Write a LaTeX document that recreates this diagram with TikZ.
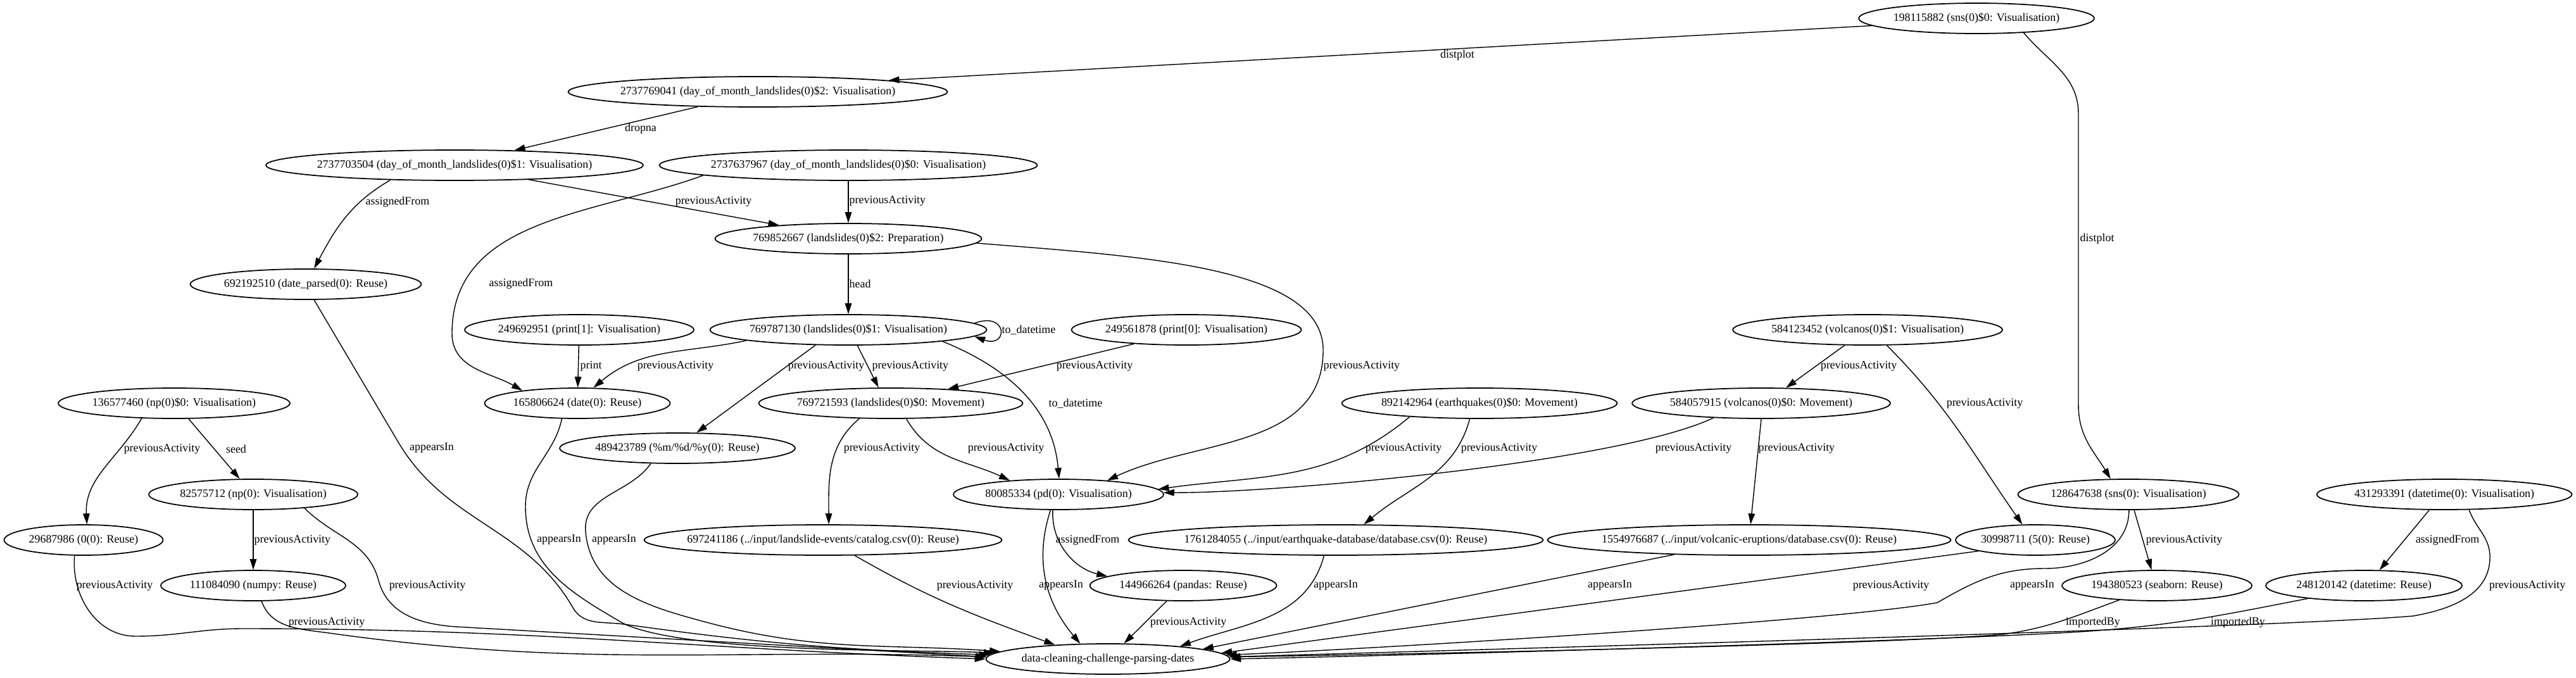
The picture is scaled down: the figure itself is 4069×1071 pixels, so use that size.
\documentclass[tikz,border=0pt]{standalone}
\usepackage{fontspec}
\setmainfont{Liberation Serif}
\usepackage{tikz}
\usetikzlibrary{arrows.meta, shapes.geometric}
\newcommand{\gvsize}{\fontsize{10.2}{12}\selectfont}
\newcommand{\gvtext}[1]{\makebox[0pt]{#1}}
\tikzset{
  ent/.style={ellipse, draw, line width=1pt, inner sep=0pt, minimum height=0.96cm,
    minimum width=#1*0.02cm, font=\gvsize},
  lbl/.style={font=\gvsize, inner sep=0pt},
  lblw/.style={lbl, anchor=west},
  rel/.style={-{Triangle[length=0.34cm, width=0.21cm]}, line width=0.8pt},
}
\begin{document}
\begin{tikzpicture}[x=0.02cm, y=-0.02cm]
  \useasboundingbox (0,0) rectangle (4069,1071);
  % entities
  \node[ent=372] (n198115882) at (3122,29) {\gvtext{198115882 (sns(0)\$0: Visualisation)}};
  \node[ent=599] (n2737769041) at (1197,145) {\gvtext{2737769041 (day\_of\_month\_landslides(0)\$2: Visualisation)}};
  \node[ent=596] (n2737703504) at (718,261) {\gvtext{2737703504 (day\_of\_month\_landslides(0)\$1: Visualisation)}};
  \node[ent=597] (n2737637967) at (1340,261) {\gvtext{2737637967 (day\_of\_month\_landslides(0)\$0: Visualisation)}};
  \node[ent=421] (n769852667) at (1340,377) {\gvtext{769852667 (landslides(0)\$2: Preparation)}};
  \node[ent=365] (n692192510) at (483,449) {\gvtext{692192510 (date\_parsed(0): Reuse)}};
  \node[ent=362] (n249692951) at (915,521) {\gvtext{249692951 (print[1]: Visualisation)}};
  \node[ent=437] (n769787130) at (1340,521) {\gvtext{769787130 (landslides(0)\$1: Visualisation)}};
  \node[ent=363] (n249561878) at (1874,521) {\gvtext{249561878 (print[0]: Visualisation)}};
  \node[ent=426] (n584123452) at (2950,521) {\gvtext{584123452 (volcanos(0)\$1: Visualisation)}};
  \node[ent=366] (n136577460) at (275,637) {\gvtext{136577460 (np(0)\$0: Visualisation)}};
  \node[ent=293] (n165806624) at (912,637) {\gvtext{165806624 (date(0): Reuse)}};
  \node[ent=417] (n769721593) at (1407,637) {\gvtext{769721593 (landslides(0)\$0: Movement)}};
  \node[ent=435] (n892142964) at (2337,637) {\gvtext{892142964 (earthquakes(0)\$0: Movement)}};
  \node[ent=408] (n584057915) at (2782,637) {\gvtext{584057915 (volcanos(0)\$0: Movement)}};
  \node[ent=372] (n489423789) at (1070,708) {\gvtext{489423789 (\%m/\%d/\%y(0): Reuse)}};
  \node[ent=330] (n82575712) at (400,781) {\gvtext{82575712 (np(0): Visualisation)}};
  \node[ent=332] (n80085334) at (1672,781) {\gvtext{80085334 (pd(0): Visualisation)}};
  \node[ent=349] (n128647638) at (3362,781) {\gvtext{128647638 (sns(0): Visualisation)}};
  \node[ent=403] (n431293391) at (3861,781) {\gvtext{431293391 (datetime(0): Visualisation)}};
  \node[ent=251] (n29687986) at (132,853) {\gvtext{29687986 (0(0): Reuse)}};
  \node[ent=565] (n697241186) at (1300,853) {\gvtext{697241186 (../input/landslide-events/catalog.csv(0): Reuse)}};
  \node[ent=655] (n1761284055) at (2110,853) {\gvtext{1761284055 (../input/earthquake-database/database.csv(0): Reuse)}};
  \node[ent=637] (n1554976687) at (2763,853) {\gvtext{1554976687 (../input/volcanic-eruptions/database.csv(0): Reuse)}};
  \node[ent=252] (n30998711) at (3215,853) {\gvtext{30998711 (5(0): Reuse)}};
  \node[ent=292] (n111084090) at (400,925) {\gvtext{111084090 (numpy: Reuse)}};
  \node[ent=295] (n144966264) at (1869,925) {\gvtext{144966264 (pandas: Reuse)}};
  \node[ent=300] (n194380523) at (3407,925) {\gvtext{194380523 (seaborn: Reuse)}};
  \node[ent=310] (n248120142) at (3734,925) {\gvtext{248120142 (datetime: Reuse)}};
  \node[ent=385] (ndata) at (1750,1041) {\gvtext{data-cleaning-challenge-parsing-dates}};
  % relations, upper part
  \draw[rel] (n198115882.184) -- (n2737769041.5) node[lbl] (l1) at (2302,87) {distplot};
  \draw[rel] (n198115882.-17) to[out=-50, in=90] (3283,180) -- (3283,640) to[out=-90, in=121] (n128647638.139)
    node[lblw] (l2) at (3285,377) {distplot};
  \draw[rel] (n2737769041.-166) -- (n2737703504.14) node[lbl] (l3) at (1012,203) {dropna};
  \draw[rel] (n2737703504.-11) -- (n769852667.169) node[lbl] (l4) at (1127,319) {previousActivity};
  \draw[rel] (n2737703504.-167) to[out=-150, in=62] (n692192510.62) node[lbl] (l5) at (628,319) {assignedFrom};
  \draw[rel] (n2737637967) -- (n769852667) node[lblw] (l6) at (1341,318) {previousActivity};
  \draw[rel] (n2737637967.-176) to[out=-160, in=90] (714,527) to[out=-90, in=150] (n165806624.167)
    node[lbl] (l7) at (823,448) {assignedFrom};
  \draw[rel] (n769852667) -- (n769787130) node[lblw] (l8) at (1341,448) {head};
  \draw[rel] (n769852667.-2) .. controls (1800,405) and (2090,420) .. (2090,553) to[out=-90, in=25] (n80085334.16)
    node[lblw] (l9) at (2090,578) {previousActivity};
  \draw[rel] (n769787130.3) to[out=20, in=-20, looseness=7] (n769787130.-3) node[lblw] (l10) at (1582,521) {to\_datetime};
  \draw[rel] (n769787130.-174) to[out=-168, in=40] (n165806624.44) node[lbl] (l11) at (1067,578) {previousActivity};
  \draw[rel] (n249692951) -- (n165806624) node[lblw] (l12) at (916,578) {print};
  \draw[rel] (n769787130.-155) -- (n489423789.39) node[lbl] (l13) at (1305,578) {previousActivity};
  \draw[rel] (n769787130.-60) -- (n769721593.128) node[lblw] (l14) at (1377,578) {previousActivity};
  \draw[rel] (n769787130.-7) to[out=-22, in=95] (n80085334.88) node[lblw] (l15) at (1656,637) {to\_datetime};
  \draw[rel] (n249561878.-165) -- (n769721593.14) node[lbl] (l16) at (1729,578) {previousActivity};
  \draw[rel] (n769721593.-154) to[out=-140, in=90] (n697241186.70) node[lbl] (l17) at (1393,708) {previousActivity};
  \draw[rel] (n769721593.-45) to[out=-60, in=155] (n80085334.164) node[lbl] (l18) at (1589,708) {previousActivity};
  \draw[rel] (n892142964.-169) to[out=-140, in=8] (n80085334.3) node[lbl] (l19) at (2217,708) {previousActivity};
  \draw[rel] (n892142964.-122) to[out=-105, in=40] (n1761284055.29) node[lbl] (l20) at (2368,708) {previousActivity};
  \draw[rel] (n584123452.-146) -- (n584057915.32) node[lbl] (l21) at (2936,578) {previousActivity};
  \draw[rel] (n584123452.-39) to[out=-45, in=125] (n30998711.130) node[lbl] (l22) at (3135,637) {previousActivity};
  \draw[rel] (n584057915.-163) .. controls (2554,732) and (2008,779) .. (n80085334.1) node[lbl] (l23) at (2675,708) {previousActivity};
  \draw[rel] (n584057915.-90) -- (n1554976687.85) node[lblw] (l24) at (2777,708) {previousActivity};
  \draw[rel] (n136577460.-155) to[out=-120, in=93] (n29687986.78) node[lbl] (l25) at (256,709) {previousActivity};
  \draw[rel] (n136577460.-47) -- (n82575712.131) node[lbl] (l26) at (373,709) {seed};
  \draw[rel] (n82575712) -- (n111084090) node[lblw] (l27) at (401,853) {previousActivity};
  \draw[rel] (n80085334.-110) to[out=-93, in=167] (n144966264.173) node[lbl] (l36) at (1718,853) {assignedFrom};
  \draw[rel] (n128647638.-70) -- (n194380523.109) node[lblw] (l42) at (3389,853) {previousActivity};
  \draw[rel] (n431293391.-134) -- (n248120142.45) node[lbl] (l44) at (3866,853) {assignedFrom};
  % relations into the notebook
  \draw[rel] (n82575712.-15) to[out=-45, in=105] (598,917) to[out=-75, in=176] (720,990) -- (ndata.179)
    node[lbl] (l28) at (675,925) {previousActivity};
  \draw[rel] (n29687986.-120) to[out=-95, in=180] (214,1005) to[out=0, in=180] (384,993)
    .. controls (844,993) and (1097,1025) .. (ndata.180) node[lbl] (l29) at (181,925) {previousActivity};
  \draw[rel] (n111084090.-62) to[out=-70, in=172] (520,1000) to[out=-8, in=178] (ndata.179)
    node[lbl] (l30) at (516,983) {previousActivity};
  \draw[rel] (n692192510.-62) -- (630,700) to[out=-59, in=120] (905,960) to[out=-60, in=172] (985,986)
    to[out=-8, in=178] (ndata.178) node[lbl] (l31) at (682,708) {appearsIn};
  \draw[rel] (n165806624.-135) to[out=-102, in=90] (830,800) to[out=-90, in=150] (985,985)
    to[out=-25, in=177, looseness=0.5] (ndata.177) node[lbl] (l32) at (883,853) {appearsIn};
  \draw[rel] (n489423789.-150) to[out=-125, in=95] (925,840) to[out=-85, in=165] (1116,983)
    to[out=-15, in=176] (ndata.176) node[lbl] (l33) at (970,853) {appearsIn};
  \draw[rel] (n697241186.-26) to[out=-30, in=160] (ndata.165) node[lbl] (l34) at (1540,925) {previousActivity};
  \draw[rel] (n80085334.-117) to[out=-108, in=130] (ndata.151) node[lbl] (l35) at (1676,925) {appearsIn};
  \draw[rel] (n144966264.-137) -- (ndata.44) node[lbl] (l37) at (1877,983) {previousActivity};
  \draw[rel] (n1761284055.-127) to[out=-105, in=20] (ndata.10) node[lbl] (l38) at (2110,925) {appearsIn};
  \draw[rel] (n1554976687.-169) -- (ndata.6) node[lbl] (l39) at (2543,925) {appearsIn};
  \draw[rel] (n30998711.-169) -- (ndata.3) node[lbl] (l40) at (2987,925) {previousActivity};
  \draw[rel] (n128647638.-88) to[out=-90, in=0] (3230,898) to[out=180, in=30] (3060,952)
    .. controls (2887,983) and (2111,1028) .. (ndata.2) node[lbl] (l41) at (3210,925) {appearsIn};
  \draw[rel] (n194380523.-159) to[out=-160, in=8] (3164,1002) .. controls (2973,1019) and (2132,1035) .. (ndata.1)
    node[lbl] (l43) at (3306,983) {importedBy};
  \draw[rel] (n248120142.-167) to[out=-169, in=4] (3300,997) .. controls (3088,1012) and (2154,1037) .. (ndata.0)
    node[lbl] (l45) at (3535,983) {importedBy};
  \draw[rel] (n431293391.-32) to[out=-70, in=90] (3933,880) to[out=-90, in=10] (3812,973)
    .. controls (3594,992) and (2161,1031) .. (ndata.1) node[lbl] (l46) at (3992,925) {previousActivity};
\end{tikzpicture}
\end{document}
